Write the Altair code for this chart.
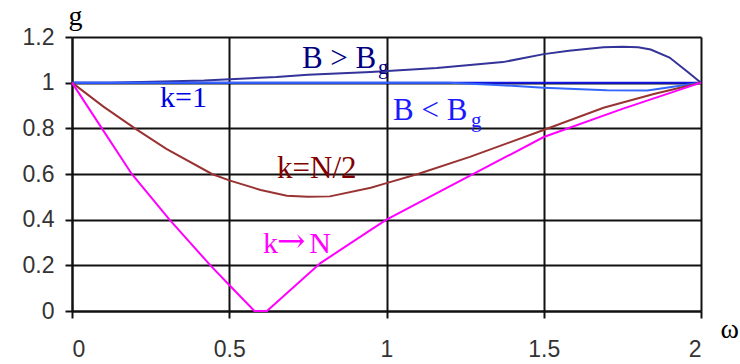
import altair as alt
import pandas as pd

# Gain g versus normalised frequency omega for several cases
omega_up = [0, 0.12, 0.42, 0.65, 0.75, 0.95, 1.16, 1.37, 1.5, 1.58, 1.69, 1.75, 1.8, 1.84, 1.9, 1.955, 2.0]
g_up = [1.0, 1.0, 1.01, 1.025, 1.035, 1.047, 1.064, 1.09, 1.125, 1.14, 1.155, 1.157, 1.155, 1.145, 1.11, 1.05, 1.0]

omega_k1 = [0, 2.0]
g_k1 = [1.0, 1.0]

omega_dn = [0, 1.2, 1.35, 1.5, 1.7, 1.83, 1.9, 2.0]
g_dn = [1.0, 1.0, 0.99, 0.978, 0.967, 0.966, 0.98, 1.0]

omega_half = [0, 0.1, 0.2, 0.3, 0.445, 0.5, 0.6, 0.683, 0.75, 0.82, 0.95, 1.0, 1.1, 1.265, 1.504, 1.69, 1.85, 2.0]
g_half = [1.0, 0.895, 0.8, 0.71, 0.6, 0.572, 0.53, 0.505, 0.5, 0.502, 0.54, 0.56, 0.6, 0.675, 0.795, 0.89, 0.95, 1.0]

omega_n = [0, 0.095, 0.19, 0.31, 0.44, 0.5, 0.58, 0.62, 0.79, 0.95, 1.0, 1.24, 1.5, 1.75, 2.0]
g_n = [1.0, 0.8, 0.6, 0.4, 0.2, 0.114, 0.0, 0.0, 0.21, 0.355, 0.4, 0.574, 0.762, 0.885, 1.0]

series_names = ["B > Bg", "k=1", "B < Bg", "k=N/2", "k→N"]
series_colors = ["#333399", "#1414e6", "#3366ff", "#993333", "#ff00ff"]

rows = []
for name, xs, ys in zip(series_names,
                        [omega_up, omega_k1, omega_dn, omega_half, omega_n],
                        [g_up, g_k1, g_dn, g_half, g_n]):
    for i, (xv, yv) in enumerate(zip(xs, ys)):
        rows.append({"series": name, "order": i, "omega": xv, "g": yv})
curves = pd.DataFrame(rows)

# Curve annotations (main text and subscript parts)
label_text = ["B > B", "g", "k=1", "B < B", "g", "k=N/2", "k", "N"]
label_x = [0.731, 0.973, 0.28, 1.021, 1.269, 0.652, 0.607, 0.754]
label_y = [1.064, 1.038, 0.894, 0.837, 0.806, 0.583, 0.254, 0.254]
label_color = ["#000080", "#000080", "#0000e6", "#1a1aff", "#1a1aff", "#800000", "#ff00ff", "#ff00ff"]
label_size = [31, 21, 30, 31, 21, 31, 30, 30]
labels = pd.DataFrame({"text": label_text, "omega": label_x, "g": label_y,
                       "color": label_color, "size": label_size})

# The arrow of the "k→N" label, set in a font with a full-width arrow glyph
arrow_text = ["→"]
arrow_x = [0.652]
arrow_y = [0.258]
arrows = pd.DataFrame({"text": arrow_text, "omega": arrow_x, "g": arrow_y})

x_scale = alt.Scale(domain=[0, 2], nice=False, zero=False)
y_scale = alt.Scale(domain=[0, 1.2], nice=False)

x_axis = alt.Axis(values=[0, 0.5, 1, 1.5, 2], format="~g", title="ω",
                  titleFont="Liberation Serif", titleFontSize=28, titleFontWeight="normal",
                  titleAngle=0, titleAlign="left", titleBaseline="alphabetic",
                  titleX=648, titleY=26, titleColor="#000")
y_axis = alt.Axis(values=[0, 0.2, 0.4, 0.6, 0.8, 1.0, 1.2], format="~g", title="g",
                  titleFont="Liberation Serif", titleFontSize=28, titleFontWeight="normal",
                  titleAngle=0, titleAlign="center", titleBaseline="alphabetic",
                  titleX=3, titleY=-13, titleColor="#000")

lines = alt.Chart(curves).mark_line(strokeWidth=2, interpolate="linear").encode(
    x=alt.X("omega:Q", scale=x_scale, axis=x_axis),
    y=alt.Y("g:Q", scale=y_scale, axis=y_axis),
    color=alt.Color("series:N", scale=alt.Scale(domain=series_names, range=series_colors), legend=None),
    order="order:Q",
    detail="series:N",
)

texts = alt.Chart(labels).mark_text(font="Liberation Serif", align="left", baseline="alphabetic").encode(
    x=alt.X("omega:Q", scale=x_scale),
    y=alt.Y("g:Q", scale=y_scale),
    text="text:N",
    color=alt.Color("color:N", scale=None),
    size=alt.Size("size:Q", scale=None),
)

arrow = alt.Chart(arrows).mark_text(font="DejaVu Serif", align="left", baseline="alphabetic",
                                     fontSize=34, color="#ff00ff").encode(
    x=alt.X("omega:Q", scale=x_scale),
    y=alt.Y("g:Q", scale=y_scale),
    text="text:N",
)

chart = (lines + texts + arrow).properties(
    width=629, height=274,
    autosize=alt.AutoSizeParams(type="none"),
    padding={"left": 72, "top": 37, "right": 39, "bottom": 53},
    background="white",
).configure_view(stroke=None).configure_axis(
    grid=True, gridColor="#111", gridWidth=2, gridOpacity=1,
    domainColor="#111", domainWidth=2,
    tickColor="#111", tickWidth=2, tickSize=7,
    labelFont="Liberation Sans", labelFontSize=23, labelColor="#333",
).configure_axisX(labelPadding=20).configure_axisY(labelPadding=11)

chart.save("out.html", embed_options={"renderer": "svg", "actions": False})
